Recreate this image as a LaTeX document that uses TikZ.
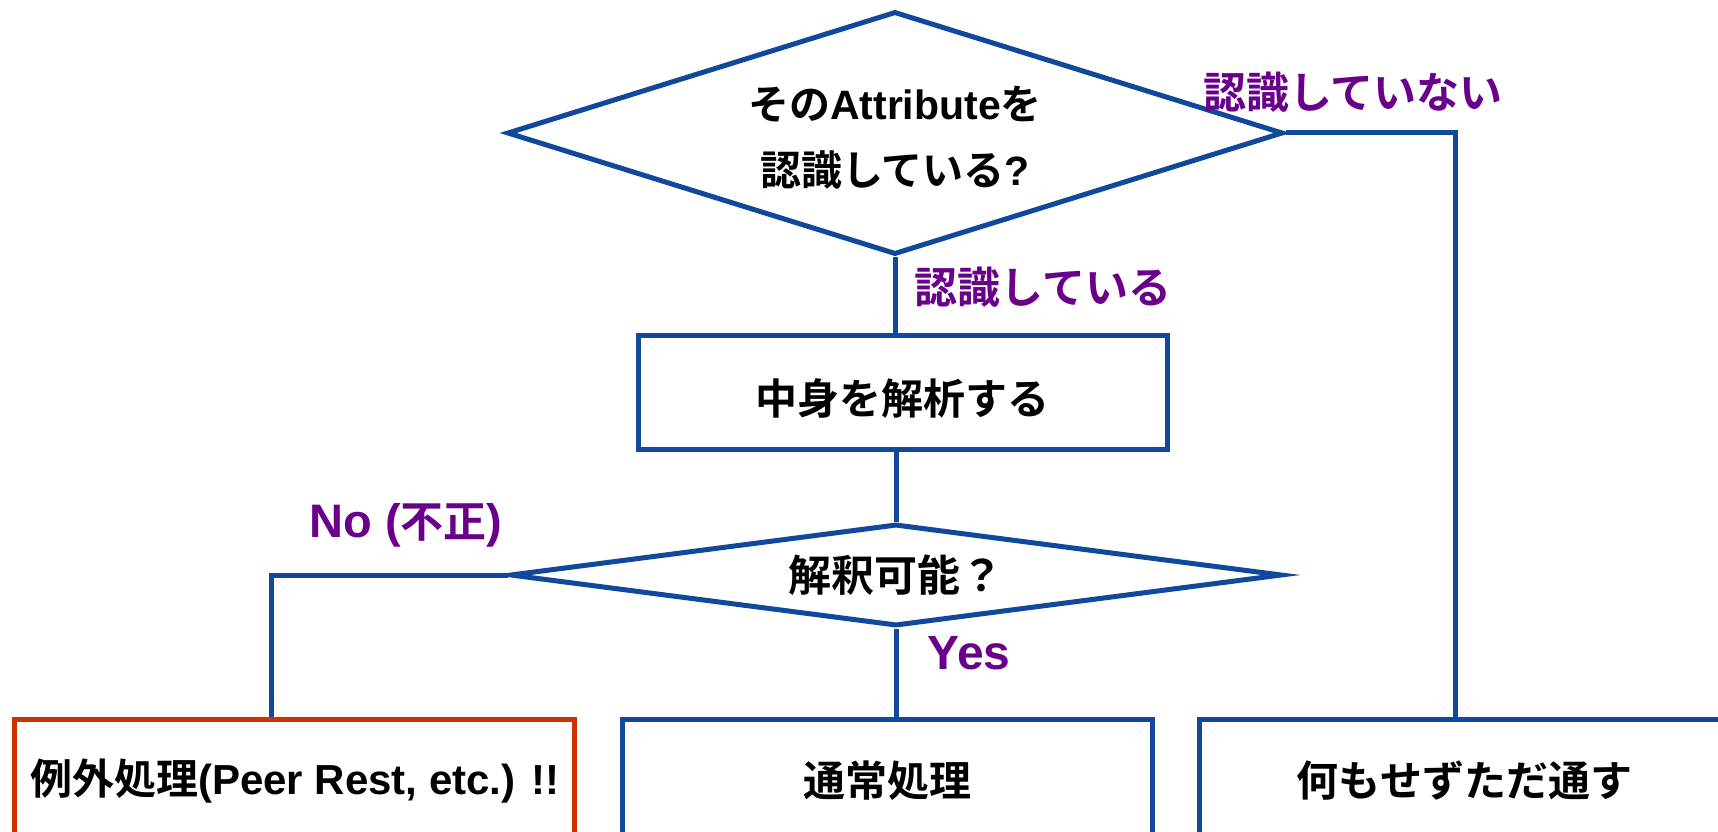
\documentclass[tikz,border=0pt]{standalone}
\usepackage{fontspec}
\setmainfont{Liberation Sans}
\newfontfamily\jp{Noto Sans CJK JP}[BoldFont={Noto Sans CJK JP Bold}]
\usetikzlibrary{shapes.geometric}
\definecolor{fblue}{RGB}{16,72,156}
\definecolor{fpurple}{RGB}{106,0,138}
\definecolor{fred}{RGB}{204,51,0}
\newcommand{\lowr}[2]{\raisebox{-#1}[\height][\depth]{#2}}
\tikzset{
  dec/.style={diamond, draw=fblue, fill=white, inner sep=0pt, align=center, text=black},
  proc/.style={rectangle, draw=fblue, fill=white, inner sep=0pt, align=center, text=black,
    font=\fontsize{42}{50}\selectfont\bfseries},
  errbox/.style={proc, draw=fred},
  lbl/.style={text=fpurple, inner sep=0pt, font=\fontsize{43}{50}\selectfont\bfseries},
  conn/.style={draw=fblue}
}
\begin{document}
\begin{tikzpicture}[x=1pt,y=-1pt,line width=5pt]
\useasboundingbox (0,0) rectangle (1718,832);
\clip (0,0) rectangle (1718,832);
\fill[white] (0,0) rectangle (1718,832);

\node[dec, minimum width=776, minimum height=243, shape aspect=3.2,
  font=\fontsize{41}{68}\selectfont\bfseries] (q1) at (895,133)
  {\lowr{6pt}{{\jp その}Attribute{\jp を}}\\\lowr{4pt}{{\jp 認識している}?}};
\node[proc, minimum width=529, minimum height=114] (parse) at (902.5,392) {\lowr{7pt}{\jp 中身を解析する}};
\node[dec, minimum width=772, minimum height=102, shape aspect=7.5,
  font=\fontsize{43}{50}\selectfont\bfseries] (q2) at (896,575) {\jp 解釈可能？};
\node[errbox, minimum width=560, minimum height=116] (exc) at (294.75,777)
  {\lowr{4pt}{{\jp 例外処理}(Peer Rest, etc.) !!}};
\node[proc, minimum width=530, minimum height=116] (norm) at (887,777) {\lowr{4pt}{\jp 通常処理}};
\node[proc, minimum width=531, minimum height=116] (pass) at (1464.5,777) {\lowr{4pt}{\jp 何もせずただ通す}};

\coordinate (rx) at (1455,0);
\coordinate (lx) at (271,0);

\draw[conn] (q1.east) -| (rx |- pass.north);
\draw[conn] (q1.south) -- (q1.south |- parse.north);
\draw[conn] (parse.south -| q2.north) -- (q2.north);
\draw[conn] (q2.west) -| (lx |- exc.north);
\draw[conn] (q2.south) -- (q2.south |- norm.north);

\node[lbl] (l1) at (1353,92) {\jp 認識していない};
\node[lbl] (l2) at (1043,287) {\jp 認識している};
\node[lbl, font=\fontsize{47}{50}\selectfont\bfseries] (l3) at (406,525) {No ({\jp\fontsize{43}{50}\selectfont 不正})};
\node[lbl, font=\fontsize{48}{50}\selectfont\bfseries] (l4) at (969,653) {Yes};
\end{tikzpicture}
\end{document}
